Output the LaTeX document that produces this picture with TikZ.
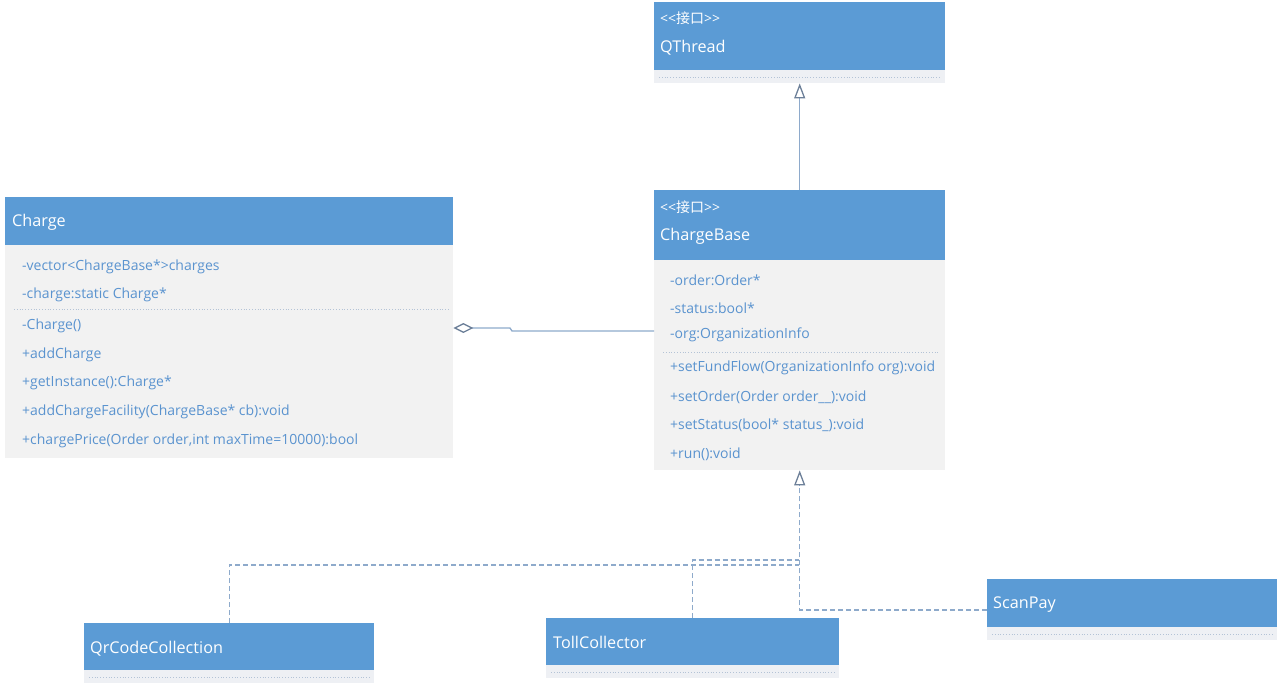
\documentclass[tikz,border=0pt]{standalone}
\usepackage{fontspec}
\setmainfont{Open Sans}
\newfontfamily\cjk{Noto Sans CJK SC}
\usetikzlibrary{arrows.meta}
\definecolor{hdrblue}{HTML}{5B9BD5}
\definecolor{bodygray}{HTML}{F2F2F2}
\definecolor{txtblue}{HTML}{5A93CF}
\definecolor{sepcol}{HTML}{B4C3D6}
\definecolor{stripgray}{HTML}{EEF0F4}
\definecolor{linecol}{HTML}{8EAACB}
\definecolor{tipcol}{HTML}{6D8099}
\newcommand{\stereo}{<{}<{\cjk 接口}>{}>}
\tikzset{
  hdr/.style={draw=none, fill=hdrblue, anchor=north west, inner sep=0pt},
  bodybox/.style={draw=none, fill=bodygray, anchor=north west, inner sep=0pt},
  strip/.style={draw=none, fill=stripgray, anchor=north west, inner sep=0pt},
  htxt/.style={anchor=west, inner sep=0pt, yshift=-1.5pt, text=white, font=\fontsize{16.2}{18}\selectfont},
  stxt/.style={anchor=west, inner sep=0pt, text=white, font=\fontsize{14}{16}\selectfont},
  btxt/.style={anchor=west, inner sep=0pt, yshift=-1pt, text=txtblue, font=\fontsize{14}{16}\selectfont},
  sepline/.style={draw=sepcol, dotted, line width=0.8pt},
  gen/.style={draw=linecol, line width=1.3pt, -{Triangle[open, length=15pt, width=11pt, line width=1.3pt, color=tipcol, fill=white]}},
  real/.style={draw=linecol, line width=1.1pt, dash pattern=on 5pt off 3pt},
  realtip/.style={-{Triangle[open, length=15pt, width=11pt, line width=1.3pt, color=tipcol, fill=white]}},
  agg/.style={draw=linecol, line width=1.3pt, {Diamond[open, length=20pt, width=10pt, line width=1.3pt, color=tipcol, fill=white]}-}
}
\begin{document}
\begin{tikzpicture}[x=1pt, y=-1pt]
\useasboundingbox (0,0) rectangle (1280,686);
% QThread
\node[hdr, minimum width=291pt, minimum height=68pt] (qthread) at (654,2) {};
\node[strip, minimum width=291pt, minimum height=13pt] (qthreadstrip) at (654,70) {};
\draw[sepline] (659,77) coordinate (qs1) -- (940,77) coordinate (qs2);
\node[stxt] (qtst) at (660,18) {\stereo};
\node[htxt] (qtname) at (660,46) {QThread};
% ChargeBase
\node[hdr, minimum width=291pt, minimum height=70pt] (cb) at (654,190) {};
\node[bodybox, minimum width=291pt, minimum height=210pt] (cbbody) at (654,260) {};
\node[stxt] (cbst) at (660,207) {\stereo};
\node[htxt] (cbname) at (660,235) {ChargeBase};
\node[btxt] (cba1) at (670,279) {-order:Order*};
\node[btxt] (cba2) at (670,307) {-status:bool*};
\node[btxt] (cba3) at (670,334) {-org:OrganizationInfo};
\draw[sepline] (663,352) coordinate (cbs1) -- (940,352) coordinate (cbs2);
\node[btxt] (cbm1) at (670,367) {+setFundFlow(OrganizationInfo org):void};
\node[btxt] (cbm2) at (670,396) {+setOrder(Order order\_\_):void};
\node[btxt] (cbm3) at (670,424) {+setStatus(bool* status\_):void};
\node[btxt] (cbm4) at (670,453) {+run():void};
% Charge
\node[hdr, minimum width=448pt, minimum height=48pt] (charge) at (5,197) {};
\node[bodybox, minimum width=448pt, minimum height=213pt] (chargebody) at (5,245) {};
\node[htxt] (chname) at (12,221) {Charge};
\node[btxt] (cha1) at (22,266) {-vector<ChargeBase*>charges};
\node[btxt] (cha2) at (22,294) {-charge:static Charge*};
\draw[sepline] (14,309) coordinate (chs1) -- (450,309) coordinate (chs2);
\node[btxt] (chm1) at (22,325) {-Charge()};
\node[btxt] (chm2) at (22,354) {+addCharge};
\node[btxt] (chm3) at (22,382) {+getInstance():Charge*};
\node[btxt] (chm4) at (22,411) {+addChargeFacility(ChargeBase* cb):void};
\node[btxt] (chm5) at (22,440) {+chargePrice(Order order,int maxTime=10000):bool};
% QrCodeCollection
\node[hdr, minimum width=290pt, minimum height=47pt] (qr) at (84,623) {};
\node[strip, minimum width=290pt, minimum height=13pt] (qrstrip) at (84,670) {};
\draw[sepline] (89,677) coordinate (qrs1) -- (370,677) coordinate (qrs2);
\node[htxt] (qrname) at (90,647) {QrCodeCollection};
% TollCollector
\node[hdr, minimum width=293pt, minimum height=47pt] (toll) at (546,618) {};
\node[strip, minimum width=293pt, minimum height=13pt] (tollstrip) at (546,665) {};
\draw[sepline] (551,672) coordinate (ts1) -- (835,672) coordinate (ts2);
\node[htxt] (tollname) at (553,641) {TollCollector};
% ScanPay
\node[hdr, minimum width=290pt, minimum height=48pt] (scan) at (987,579) {};
\node[strip, minimum width=290pt, minimum height=13pt] (scanstrip) at (987,627) {};
\draw[sepline] (992,634) coordinate (ss1) -- (1273,634) coordinate (ss2);
\node[htxt] (scanname) at (993,603) {ScanPay};
% connectors
\draw[gen] (cb.north) -- (qthreadstrip.south);
\coordinate (jq) at (799,565);
\coordinate (jt) at (799,560);
\coordinate (js) at (799,610);
\draw[real] (qr.north) |- (jq);
\draw[real] (toll.north) |- (jt);
\draw[real, realtip] (scan.west |- js) -| (cbbody.south);
\coordinate (ag1) at (510,328);
\coordinate (ag2) at (512,331);
\draw[agg] (chargebody.east |- ag1) -- (ag1) -- (ag2) -- (cbbody.west |- ag2);
\end{tikzpicture}
\end{document}
